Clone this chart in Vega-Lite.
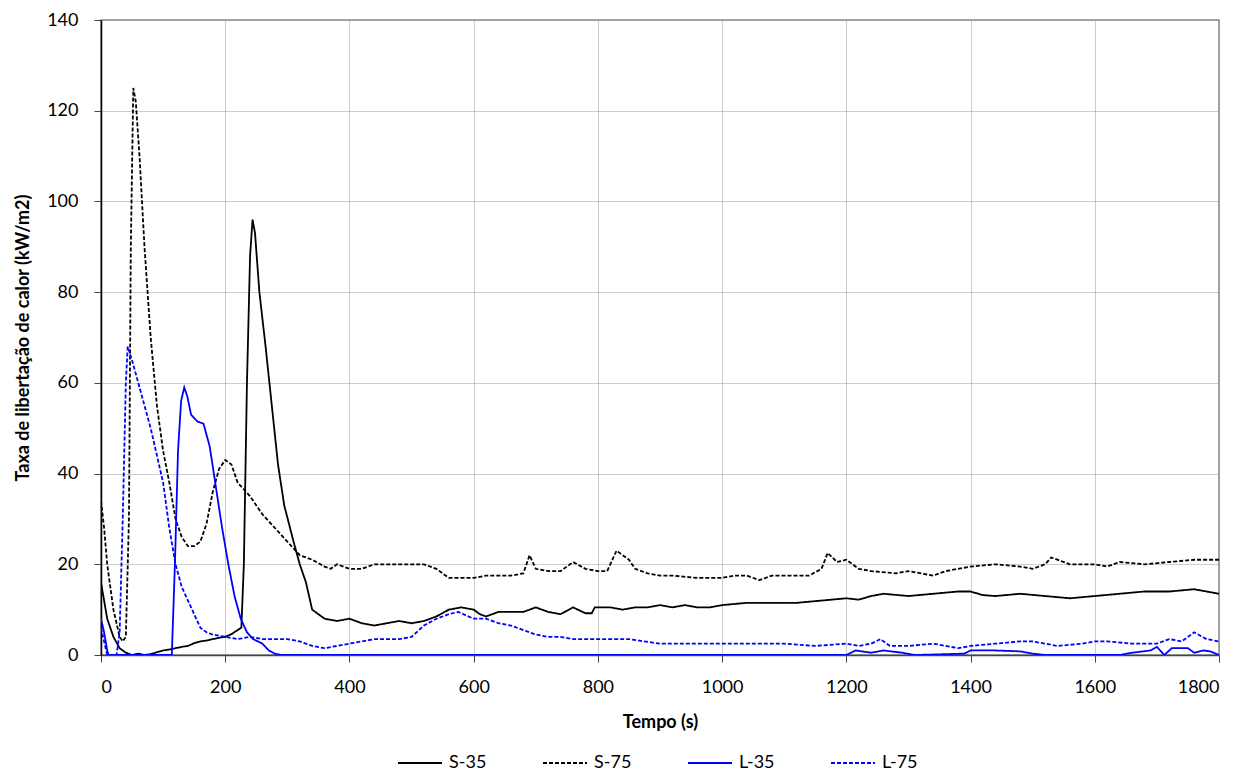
{
  "$schema": "https://vega.github.io/schema/vega-lite/v6.json",
  "width": 1118,
  "height": 635,
  "autosize": {"type": "none"},
  "padding": {"left": 101, "top": 20, "right": 35, "bottom": 119},
  "background": "white",
  "config": {
    "font": "Lato",
    "view": {"stroke": "#888888", "strokeWidth": 1.5}
  },
  "data": {"values": [
    {"s":"S-35","t":0,"v":16},{"s":"S-35","t":5,"v":12},{"s":"S-35","t":10,"v":8},{"s":"S-35","t":15,"v":6},{"s":"S-35","t":20,"v":4},{"s":"S-35","t":30,"v":1.5},{"s":"S-35","t":40,"v":0.5},{"s":"S-35","t":50,"v":0},{"s":"S-35","t":60,"v":0.3},{"s":"S-35","t":70,"v":0},{"s":"S-35","t":80,"v":0.2},{"s":"S-35","t":90,"v":0.6},{"s":"S-35","t":100,"v":1},{"s":"S-35","t":110,"v":1.2},{"s":"S-35","t":120,"v":1.5},{"s":"S-35","t":130,"v":1.8},{"s":"S-35","t":140,"v":2},{"s":"S-35","t":150,"v":2.6},{"s":"S-35","t":160,"v":3},{"s":"S-35","t":170,"v":3.2},{"s":"S-35","t":180,"v":3.5},{"s":"S-35","t":190,"v":3.8},{"s":"S-35","t":200,"v":4},{"s":"S-35","t":210,"v":4.6},{"s":"S-35","t":220,"v":5.5},{"s":"S-35","t":226,"v":6},{"s":"S-35","t":230,"v":20},{"s":"S-35","t":235,"v":60},{"s":"S-35","t":240,"v":88},{"s":"S-35","t":244,"v":96},{"s":"S-35","t":248,"v":93},{"s":"S-35","t":255,"v":80},{"s":"S-35","t":265,"v":68},{"s":"S-35","t":275,"v":55},{"s":"S-35","t":285,"v":42},{"s":"S-35","t":295,"v":33},{"s":"S-35","t":310,"v":25},{"s":"S-35","t":320,"v":20},{"s":"S-35","t":330,"v":16},{"s":"S-35","t":340,"v":10},{"s":"S-35","t":350,"v":9},{"s":"S-35","t":360,"v":8},{"s":"S-35","t":380,"v":7.5},{"s":"S-35","t":400,"v":8},{"s":"S-35","t":420,"v":7},{"s":"S-35","t":440,"v":6.5},{"s":"S-35","t":460,"v":7},{"s":"S-35","t":480,"v":7.5},{"s":"S-35","t":500,"v":7},{"s":"S-35","t":520,"v":7.5},{"s":"S-35","t":540,"v":8.5},{"s":"S-35","t":560,"v":10},{"s":"S-35","t":580,"v":10.5},{"s":"S-35","t":600,"v":10},{"s":"S-35","t":610,"v":9},{"s":"S-35","t":620,"v":8.5},{"s":"S-35","t":640,"v":9.5},{"s":"S-35","t":660,"v":9.5},{"s":"S-35","t":680,"v":9.5},{"s":"S-35","t":700,"v":10.5},{"s":"S-35","t":720,"v":9.5},{"s":"S-35","t":740,"v":9},{"s":"S-35","t":760,"v":10.5},{"s":"S-35","t":780,"v":9.2},{"s":"S-35","t":790,"v":9.2},{"s":"S-35","t":795,"v":10.5},{"s":"S-35","t":820,"v":10.5},{"s":"S-35","t":840,"v":10},{"s":"S-35","t":860,"v":10.5},{"s":"S-35","t":880,"v":10.5},{"s":"S-35","t":900,"v":11},{"s":"S-35","t":920,"v":10.5},{"s":"S-35","t":940,"v":11},{"s":"S-35","t":960,"v":10.5},{"s":"S-35","t":980,"v":10.5},{"s":"S-35","t":1000,"v":11},{"s":"S-35","t":1040,"v":11.5},{"s":"S-35","t":1080,"v":11.5},{"s":"S-35","t":1120,"v":11.5},{"s":"S-35","t":1160,"v":12},{"s":"S-35","t":1200,"v":12.5},{"s":"S-35","t":1220,"v":12.2},{"s":"S-35","t":1240,"v":13},{"s":"S-35","t":1260,"v":13.5},{"s":"S-35","t":1300,"v":13},{"s":"S-35","t":1340,"v":13.5},{"s":"S-35","t":1380,"v":14},{"s":"S-35","t":1400,"v":14},{"s":"S-35","t":1420,"v":13.2},{"s":"S-35","t":1440,"v":13},{"s":"S-35","t":1480,"v":13.5},{"s":"S-35","t":1520,"v":13},{"s":"S-35","t":1560,"v":12.5},{"s":"S-35","t":1600,"v":13},{"s":"S-35","t":1640,"v":13.5},{"s":"S-35","t":1680,"v":14},{"s":"S-35","t":1720,"v":14},{"s":"S-35","t":1760,"v":14.5},{"s":"S-35","t":1800,"v":13.5},
    {"s":"S-75","t":0,"v":34},{"s":"S-75","t":5,"v":28},{"s":"S-75","t":10,"v":20},{"s":"S-75","t":20,"v":10},{"s":"S-75","t":30,"v":4},{"s":"S-75","t":35,"v":3},{"s":"S-75","t":40,"v":4},{"s":"S-75","t":45,"v":30},{"s":"S-75","t":48,"v":90},{"s":"S-75","t":52,"v":125},{"s":"S-75","t":56,"v":122},{"s":"S-75","t":62,"v":110},{"s":"S-75","t":70,"v":90},{"s":"S-75","t":80,"v":70},{"s":"S-75","t":90,"v":55},{"s":"S-75","t":100,"v":45},{"s":"S-75","t":110,"v":38},{"s":"S-75","t":120,"v":30},{"s":"S-75","t":130,"v":26},{"s":"S-75","t":140,"v":24},{"s":"S-75","t":150,"v":24},{"s":"S-75","t":160,"v":25},{"s":"S-75","t":170,"v":29},{"s":"S-75","t":180,"v":36},{"s":"S-75","t":190,"v":41},{"s":"S-75","t":200,"v":43},{"s":"S-75","t":210,"v":42},{"s":"S-75","t":220,"v":38},{"s":"S-75","t":240,"v":35},{"s":"S-75","t":260,"v":31},{"s":"S-75","t":280,"v":28},{"s":"S-75","t":300,"v":25},{"s":"S-75","t":320,"v":22},{"s":"S-75","t":340,"v":21},{"s":"S-75","t":360,"v":19.5},{"s":"S-75","t":370,"v":19},{"s":"S-75","t":380,"v":20},{"s":"S-75","t":400,"v":19},{"s":"S-75","t":420,"v":19},{"s":"S-75","t":440,"v":20},{"s":"S-75","t":460,"v":20},{"s":"S-75","t":480,"v":20},{"s":"S-75","t":500,"v":20},{"s":"S-75","t":520,"v":20},{"s":"S-75","t":540,"v":19},{"s":"S-75","t":560,"v":17},{"s":"S-75","t":580,"v":17},{"s":"S-75","t":600,"v":17},{"s":"S-75","t":620,"v":17.5},{"s":"S-75","t":640,"v":17.5},{"s":"S-75","t":660,"v":17.5},{"s":"S-75","t":680,"v":18},{"s":"S-75","t":690,"v":22},{"s":"S-75","t":700,"v":19},{"s":"S-75","t":720,"v":18.5},{"s":"S-75","t":740,"v":18.5},{"s":"S-75","t":760,"v":20.5},{"s":"S-75","t":780,"v":19},{"s":"S-75","t":800,"v":18.5},{"s":"S-75","t":815,"v":18.5},{"s":"S-75","t":830,"v":23},{"s":"S-75","t":850,"v":21},{"s":"S-75","t":860,"v":19},{"s":"S-75","t":880,"v":18},{"s":"S-75","t":900,"v":17.5},{"s":"S-75","t":920,"v":17.5},{"s":"S-75","t":960,"v":17},{"s":"S-75","t":1000,"v":17},{"s":"S-75","t":1020,"v":17.5},{"s":"S-75","t":1040,"v":17.5},{"s":"S-75","t":1060,"v":16.5},{"s":"S-75","t":1080,"v":17.5},{"s":"S-75","t":1100,"v":17.5},{"s":"S-75","t":1120,"v":17.5},{"s":"S-75","t":1140,"v":17.5},{"s":"S-75","t":1160,"v":19},{"s":"S-75","t":1170,"v":22.5},{"s":"S-75","t":1185,"v":20.5},{"s":"S-75","t":1200,"v":21},{"s":"S-75","t":1220,"v":19},{"s":"S-75","t":1240,"v":18.5},{"s":"S-75","t":1280,"v":18},{"s":"S-75","t":1300,"v":18.5},{"s":"S-75","t":1340,"v":17.5},{"s":"S-75","t":1360,"v":18.5},{"s":"S-75","t":1400,"v":19.5},{"s":"S-75","t":1440,"v":20},{"s":"S-75","t":1480,"v":19.5},{"s":"S-75","t":1500,"v":19},{"s":"S-75","t":1520,"v":20},{"s":"S-75","t":1530,"v":21.5},{"s":"S-75","t":1560,"v":20},{"s":"S-75","t":1600,"v":20},{"s":"S-75","t":1620,"v":19.5},{"s":"S-75","t":1640,"v":20.5},{"s":"S-75","t":1680,"v":20},{"s":"S-75","t":1720,"v":20.5},{"s":"S-75","t":1760,"v":21},{"s":"S-75","t":1800,"v":21},
    {"s":"L-35","t":0,"v":8},{"s":"L-35","t":5,"v":5},{"s":"L-35","t":10,"v":1},{"s":"L-35","t":12,"v":0},{"s":"L-35","t":60,"v":0},{"s":"L-35","t":114,"v":0},{"s":"L-35","t":119,"v":20},{"s":"L-35","t":124,"v":45},{"s":"L-35","t":129,"v":56},{"s":"L-35","t":134,"v":59},{"s":"L-35","t":139,"v":57},{"s":"L-35","t":145,"v":53},{"s":"L-35","t":155,"v":51.5},{"s":"L-35","t":165,"v":51},{"s":"L-35","t":175,"v":46},{"s":"L-35","t":185,"v":37},{"s":"L-35","t":195,"v":28},{"s":"L-35","t":205,"v":20},{"s":"L-35","t":215,"v":13},{"s":"L-35","t":225,"v":8},{"s":"L-35","t":235,"v":5},{"s":"L-35","t":245,"v":3.5},{"s":"L-35","t":260,"v":2.5},{"s":"L-35","t":270,"v":1},{"s":"L-35","t":280,"v":0.3},{"s":"L-35","t":290,"v":0},{"s":"L-35","t":1000,"v":0},{"s":"L-35","t":1200,"v":0},{"s":"L-35","t":1215,"v":1},{"s":"L-35","t":1240,"v":0.5},{"s":"L-35","t":1260,"v":1},{"s":"L-35","t":1290,"v":0.5},{"s":"L-35","t":1310,"v":0},{"s":"L-35","t":1390,"v":0.3},{"s":"L-35","t":1400,"v":1},{"s":"L-35","t":1440,"v":1},{"s":"L-35","t":1480,"v":0.8},{"s":"L-35","t":1500,"v":0.3},{"s":"L-35","t":1520,"v":0},{"s":"L-35","t":1640,"v":0},{"s":"L-35","t":1660,"v":0.5},{"s":"L-35","t":1690,"v":1},{"s":"L-35","t":1700,"v":1.8},{"s":"L-35","t":1712,"v":0},{"s":"L-35","t":1724,"v":1.5},{"s":"L-35","t":1750,"v":1.5},{"s":"L-35","t":1760,"v":0.5},{"s":"L-35","t":1775,"v":1},{"s":"L-35","t":1786,"v":0.8},{"s":"L-35","t":1800,"v":0},
    {"s":"L-75","t":0,"v":6},{"s":"L-75","t":5,"v":3},{"s":"L-75","t":10,"v":0},{"s":"L-75","t":25,"v":0},{"s":"L-75","t":30,"v":5},{"s":"L-75","t":35,"v":30},{"s":"L-75","t":40,"v":60},{"s":"L-75","t":43,"v":68},{"s":"L-75","t":50,"v":65},{"s":"L-75","t":60,"v":60},{"s":"L-75","t":70,"v":55},{"s":"L-75","t":80,"v":50},{"s":"L-75","t":90,"v":44},{"s":"L-75","t":100,"v":38},{"s":"L-75","t":110,"v":28},{"s":"L-75","t":120,"v":20},{"s":"L-75","t":130,"v":15},{"s":"L-75","t":140,"v":12},{"s":"L-75","t":150,"v":9},{"s":"L-75","t":160,"v":6},{"s":"L-75","t":170,"v":5},{"s":"L-75","t":180,"v":4.5},{"s":"L-75","t":200,"v":4},{"s":"L-75","t":220,"v":3.5},{"s":"L-75","t":240,"v":4},{"s":"L-75","t":260,"v":3.5},{"s":"L-75","t":280,"v":3.5},{"s":"L-75","t":300,"v":3.5},{"s":"L-75","t":320,"v":3},{"s":"L-75","t":340,"v":2},{"s":"L-75","t":360,"v":1.5},{"s":"L-75","t":380,"v":2},{"s":"L-75","t":400,"v":2.5},{"s":"L-75","t":420,"v":3},{"s":"L-75","t":440,"v":3.5},{"s":"L-75","t":460,"v":3.5},{"s":"L-75","t":480,"v":3.5},{"s":"L-75","t":500,"v":4},{"s":"L-75","t":520,"v":6.5},{"s":"L-75","t":540,"v":8},{"s":"L-75","t":560,"v":9},{"s":"L-75","t":575,"v":9.5},{"s":"L-75","t":600,"v":8},{"s":"L-75","t":620,"v":8},{"s":"L-75","t":640,"v":7},{"s":"L-75","t":660,"v":6.5},{"s":"L-75","t":680,"v":5.5},{"s":"L-75","t":700,"v":4.5},{"s":"L-75","t":720,"v":4},{"s":"L-75","t":740,"v":4},{"s":"L-75","t":760,"v":3.5},{"s":"L-75","t":780,"v":3.5},{"s":"L-75","t":800,"v":3.5},{"s":"L-75","t":850,"v":3.5},{"s":"L-75","t":900,"v":2.5},{"s":"L-75","t":950,"v":2.5},{"s":"L-75","t":1000,"v":2.5},{"s":"L-75","t":1050,"v":2.5},{"s":"L-75","t":1100,"v":2.5},{"s":"L-75","t":1150,"v":2},{"s":"L-75","t":1200,"v":2.5},{"s":"L-75","t":1220,"v":2},{"s":"L-75","t":1240,"v":2.5},{"s":"L-75","t":1255,"v":3.5},{"s":"L-75","t":1270,"v":2},{"s":"L-75","t":1300,"v":2},{"s":"L-75","t":1340,"v":2.5},{"s":"L-75","t":1360,"v":2},{"s":"L-75","t":1380,"v":1.5},{"s":"L-75","t":1400,"v":2},{"s":"L-75","t":1440,"v":2.5},{"s":"L-75","t":1480,"v":3},{"s":"L-75","t":1500,"v":3},{"s":"L-75","t":1540,"v":2},{"s":"L-75","t":1580,"v":2.5},{"s":"L-75","t":1600,"v":3},{"s":"L-75","t":1620,"v":3},{"s":"L-75","t":1660,"v":2.5},{"s":"L-75","t":1700,"v":2.5},{"s":"L-75","t":1720,"v":3.5},{"s":"L-75","t":1740,"v":3},{"s":"L-75","t":1760,"v":5},{"s":"L-75","t":1780,"v":3.5},{"s":"L-75","t":1800,"v":3}
  ]},
  "mark": {"type": "line", "strokeWidth": 1.8, "clip": true},
  "encoding": {
    "x": {
      "field": "t", "type": "quantitative",
      "scale": {"domain": [0, 1800], "nice": false, "zero": false},
      "axis": {
        "title": "Tempo (s)", "values": [0,200,400,600,800,1000,1200,1400,1600,1800], "format": "d",
        "titleFontSize": 18, "titleFontWeight": "bold", "titleFont": "Lato", "titleColor": "#000", "titlePadding": 17,
        "labelFontSize": 18, "labelFont": "Lato", "labelColor": "#000", "labelPadding": 16,
        "tickSize": 7, "tickColor": "#444", "domainColor": "#444", "domainWidth": 1.5,
        "gridColor": "#999", "gridDash": [1, 1], "gridWidth": 1
      }
    },
    "y": {
      "field": "v", "type": "quantitative",
      "scale": {"domain": [0, 140], "nice": false},
      "axis": {
        "title": "Taxa de libertação de calor (kW/m2)", "values": [0,20,40,60,80,100,120,140], "format": "d",
        "titleFontSize": 18, "titleFontWeight": "bold", "titleFont": "Lato", "titleColor": "#000", "titlePadding": 14,
        "labelFontSize": 18, "labelFont": "Lato", "labelColor": "#000", "labelPadding": 16,
        "tickSize": 7, "tickColor": "#444", "domainColor": "#000", "domainWidth": 1.5,
        "gridColor": "#999", "gridDash": [1, 1], "gridWidth": 1
      }
    },
    "color": {
      "field": "s", "type": "nominal",
      "scale": {"domain": ["S-35", "S-75", "L-35", "L-75"], "range": ["#000000", "#000000", "#0000FF", "#0000FF"]},
      "legend": {
        "title": null, "orient": "none", "legendX": 296, "legendY": 720, "direction": "horizontal", "columns": 4,
        "symbolType": "stroke", "symbolSize": 1936, "symbolStrokeWidth": 1.8,
        "labelFontSize": 18, "labelFont": "Lato", "labelColor": "#000",
        "columnPadding": 52, "labelOffset": 6
      }
    },
    "strokeDash": {
      "field": "s", "type": "nominal",
      "scale": {"domain": ["S-35", "S-75", "L-35", "L-75"], "range": [[1, 0], [4, 2], [1, 0], [4, 2]]},
      "legend": null
    },
    "order": {"field": "t", "type": "quantitative"}
  }
}
